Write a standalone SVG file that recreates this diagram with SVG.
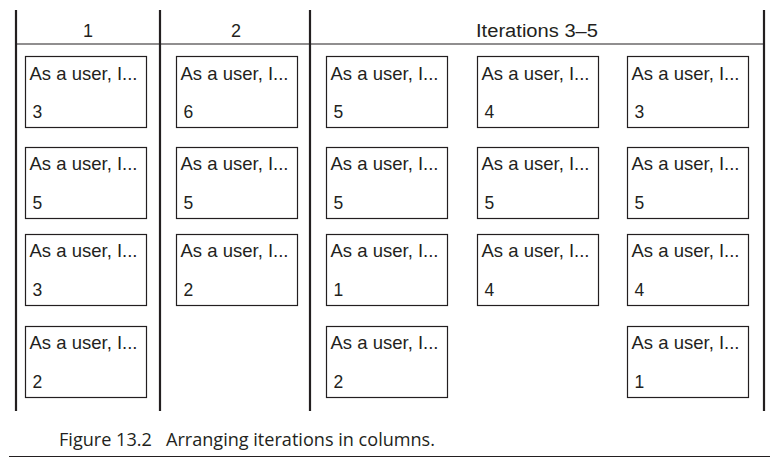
<svg xmlns="http://www.w3.org/2000/svg" width="781" height="472" viewBox="0 0 781 472">
<style>
.bg{fill:#fff}
.col{stroke:#231f20;stroke-width:2.2;fill:none}
.hd{stroke:#231f20;stroke-width:1.2;fill:none}
.card{fill:#fff;stroke:#231f20;stroke-width:1.2}
.t{font-family:"Liberation Sans",Arial,sans-serif;font-size:18.5px;fill:#231f20}
.n{font-family:"Liberation Sans",Arial,sans-serif;font-size:17.5px;fill:#231f20}
.h{font-family:"Liberation Sans",Arial,sans-serif;font-size:18px;fill:#231f20;text-anchor:middle}
.cap{font-family:"Open Sans","Noto Sans",sans-serif;font-size:18px;fill:#231f20}
</style>
<defs>
<g id="card">
<rect class="card" x="0" y="0" width="121" height="71"/>
</g>
</defs>
<rect class="bg" x="0" y="0" width="781" height="472"/>
<g id="grid">
<line class="col" x1="16" y1="10" x2="16" y2="411"/>
<line class="col" x1="160" y1="10" x2="160" y2="411"/>
<line class="col" x1="310" y1="10" x2="310" y2="411"/>
<line class="col" x1="764" y1="10" x2="764" y2="411"/>
<line class="hd" x1="16" y1="44" x2="764" y2="44"/>
</g>
<g id="headers">
<text class="h" x="88" y="37">1</text>
<text class="h" x="236" y="37">2</text>
<text class="h" x="537" y="37" textLength="122" lengthAdjust="spacingAndGlyphs">Iterations 3–5</text>
</g>
<g id="c1r1"><use href="#card" x="25.5" y="56.5"/><text class="t" x="29.5" y="79.5">As a user, I...</text><text class="n" x="32.5" y="118">3</text></g>
<g id="c1r2"><use href="#card" x="25.5" y="147.5"/><text class="t" x="29.5" y="169.5">As a user, I...</text><text class="n" x="32.5" y="209">5</text></g>
<g id="c1r3"><use href="#card" x="25.5" y="234.5"/><text class="t" x="29.5" y="256.5">As a user, I...</text><text class="n" x="32.5" y="296">3</text></g>
<g id="c1r4"><use href="#card" x="25.5" y="326.5"/><text class="t" x="29.5" y="348.5">As a user, I...</text><text class="n" x="32.5" y="388">2</text></g>
<g id="c2r1"><use href="#card" x="176.5" y="56.5"/><text class="t" x="180.5" y="79.5">As a user, I...</text><text class="n" x="183.5" y="118">6</text></g>
<g id="c2r2"><use href="#card" x="176.5" y="147.5"/><text class="t" x="180.5" y="169.5">As a user, I...</text><text class="n" x="183.5" y="209">5</text></g>
<g id="c2r3"><use href="#card" x="176.5" y="234.5"/><text class="t" x="180.5" y="256.5">As a user, I...</text><text class="n" x="183.5" y="296">2</text></g>
<g id="c3r1"><use href="#card" x="326.5" y="56.5"/><text class="t" x="330.5" y="79.5">As a user, I...</text><text class="n" x="333.5" y="118">5</text></g>
<g id="c3r2"><use href="#card" x="326.5" y="147.5"/><text class="t" x="330.5" y="169.5">As a user, I...</text><text class="n" x="333.5" y="209">5</text></g>
<g id="c3r3"><use href="#card" x="326.5" y="234.5"/><text class="t" x="330.5" y="256.5">As a user, I...</text><text class="n" x="333.5" y="296">1</text></g>
<g id="c3r4"><use href="#card" x="326.5" y="326.5"/><text class="t" x="330.5" y="348.5">As a user, I...</text><text class="n" x="333.5" y="388">2</text></g>
<g id="c4r1"><use href="#card" x="477.5" y="56.5"/><text class="t" x="481.5" y="79.5">As a user, I...</text><text class="n" x="484.5" y="118">4</text></g>
<g id="c4r2"><use href="#card" x="477.5" y="147.5"/><text class="t" x="481.5" y="169.5">As a user, I...</text><text class="n" x="484.5" y="209">5</text></g>
<g id="c4r3"><use href="#card" x="477.5" y="234.5"/><text class="t" x="481.5" y="256.5">As a user, I...</text><text class="n" x="484.5" y="296">4</text></g>
<g id="c5r1"><use href="#card" x="627.5" y="56.5"/><text class="t" x="631.5" y="79.5">As a user, I...</text><text class="n" x="634.5" y="118">3</text></g>
<g id="c5r2"><use href="#card" x="627.5" y="147.5"/><text class="t" x="631.5" y="169.5">As a user, I...</text><text class="n" x="634.5" y="209">5</text></g>
<g id="c5r3"><use href="#card" x="627.5" y="234.5"/><text class="t" x="631.5" y="256.5">As a user, I...</text><text class="n" x="634.5" y="296">4</text></g>
<g id="c5r4"><use href="#card" x="627.5" y="326.5"/><text class="t" x="631.5" y="348.5">As a user, I...</text><text class="n" x="634.5" y="388">1</text></g>
<g id="caption">
<text class="cap" x="59" y="446" xml:space="preserve" textLength="376" lengthAdjust="spacingAndGlyphs">Figure 13.2   Arranging iterations in columns.</text>
<line class="hd" x1="9" y1="456.5" x2="770" y2="456.5"/>
</g>
</svg>
